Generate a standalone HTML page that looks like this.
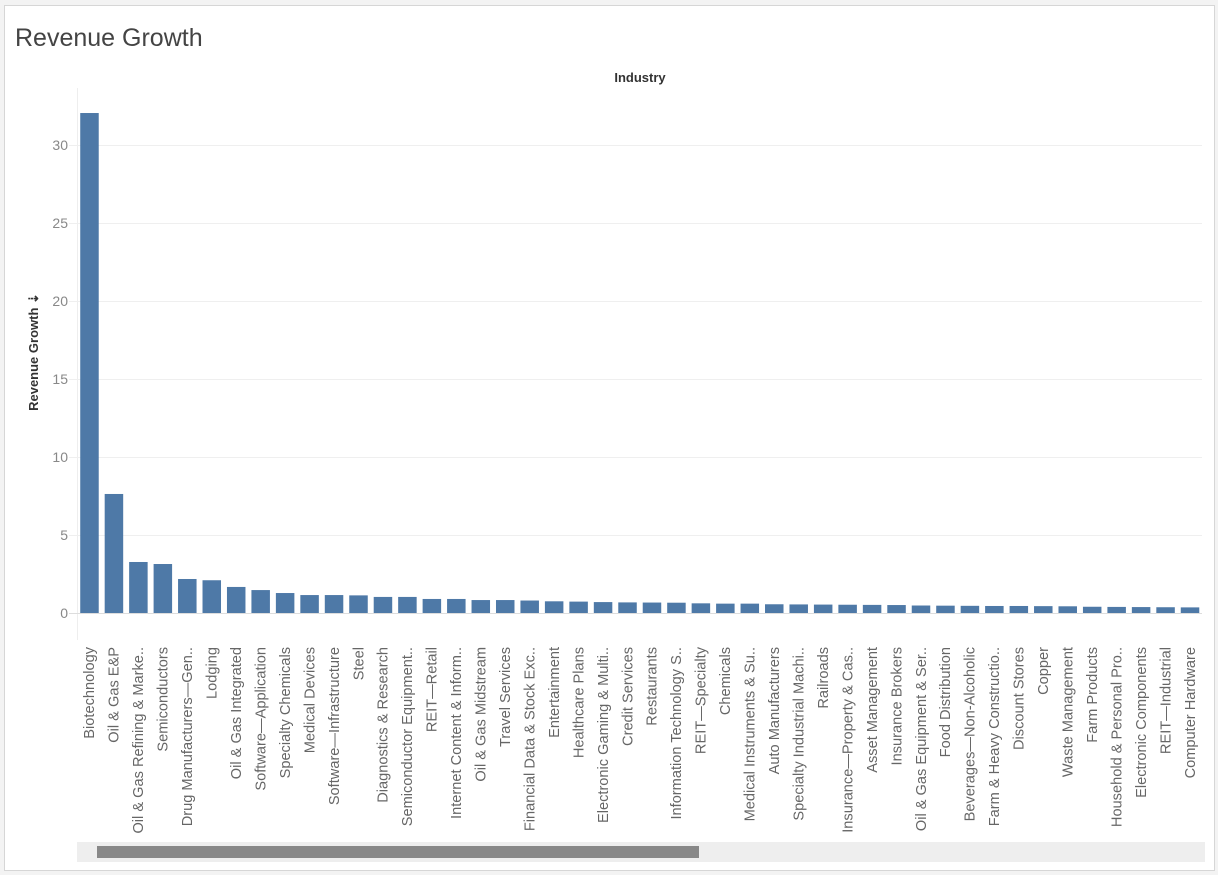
<!DOCTYPE html>
<html><head><meta charset="utf-8"><style>
html,body{margin:0;padding:0;background:#f3f3f3;width:1218px;height:875px;overflow:hidden}
#card{position:absolute;left:4px;top:5px;width:1209px;height:864px;background:#fff;border:1px solid #d6d6d6}
svg{position:absolute;left:0;top:0}
text{font-family:"Liberation Sans",sans-serif}
</style></head><body>
<div id="card"></div>
<svg id="chart" width="1218" height="875">
<text x="15" y="46" font-size="25" fill="#444">Revenue Growth</text>
<text x="640" y="82" font-size="13" font-weight="bold" fill="#333" text-anchor="middle">Industry</text>
<text transform="translate(38,352) rotate(-90)" font-size="13" font-weight="bold" fill="#333" text-anchor="middle">Revenue Growth ⇣</text>
<line x1="77.5" y1="88" x2="77.5" y2="640" stroke="#eee"/>
<g id="grid"></g><g id="bars"></g><g id="labels"></g>
<rect x="77" y="842" width="1128" height="20" fill="#eeeeee"/>
<rect x="97" y="846" width="602" height="12" fill="#888"/>
</svg>
<script>
const categories=["Biotechnology","Oil & Gas E&P","Oil & Gas Refining & Marke..","Semiconductors","Drug Manufacturers—Gen..","Lodging","Oil & Gas Integrated","Software—Application","Specialty Chemicals","Medical Devices","Software—Infrastructure","Steel","Diagnostics & Research","Semiconductor Equipment..","REIT—Retail","Internet Content & Inform..","Oil & Gas Midstream","Travel Services","Financial Data & Stock Exc..","Entertainment","Healthcare Plans","Electronic Gaming & Multi..","Credit Services","Restaurants","Information Technology S..","REIT—Specialty","Chemicals","Medical Instruments & Su..","Auto Manufacturers","Specialty Industrial Machi..","Railroads","Insurance—Property & Cas..","Asset Management","Insurance Brokers","Oil & Gas Equipment & Ser..","Food Distribution","Beverages—Non-Alcoholic","Farm & Heavy Constructio..","Discount Stores","Copper","Waste Management","Farm Products","Household & Personal Pro..","Electronic Components","REIT—Industrial","Computer Hardware"];
const values=[32.05,7.63,3.27,3.14,2.18,2.1,1.67,1.47,1.28,1.15,1.15,1.13,1.03,1.03,0.9,0.9,0.83,0.83,0.8,0.75,0.73,0.7,0.68,0.67,0.66,0.62,0.6,0.6,0.56,0.55,0.54,0.53,0.52,0.51,0.48,0.47,0.46,0.45,0.45,0.44,0.43,0.4,0.39,0.38,0.37,0.36];
const yTicks=[0,5,10,15,20,25,30];
const NS="http://www.w3.org/2000/svg";
const plotL=77,plotR=1202,y0=613,pxPerUnit=15.6;
const step=(plotR-plotL)/categories.length;
const y=v=>y0-v*pxPerUnit;
const x=i=>plotL+step*i+step/2;
function mk(t,a,p){const e=document.createElementNS(NS,t);for(const k in a)e.setAttribute(k,a[k]);p.appendChild(e);return e;}
const grid=document.getElementById('grid'),bars=document.getElementById('bars'),labels=document.getElementById('labels');
yTicks.forEach(t=>{
 const l=mk('line',{x1:plotL-8,x2:plotR,y1:y(t)+0.5,y2:y(t)+0.5,stroke:t===0?'#ddd':'#efefef'},grid);
 
 
 const tx=mk('text',{x:68,y:y(t)+5,'font-size':14,fill:'#888','text-anchor':'end'},grid);
 tx.textContent=t;
 
 
});
categories.forEach((c,i)=>{
 const r=mk('rect',{x:x(i)-9,y:y(values[i]),width:18.5,height:values[i]*pxPerUnit,fill:'#4e79a7'},bars);
 
 
 const t=mk('text',{transform:`translate(${x(i)+5},647) rotate(-90)`,'font-size':14.6,fill:'#666','text-anchor':'end'},labels);
 t.textContent=c;
 
 
});
</script>
</body></html>
